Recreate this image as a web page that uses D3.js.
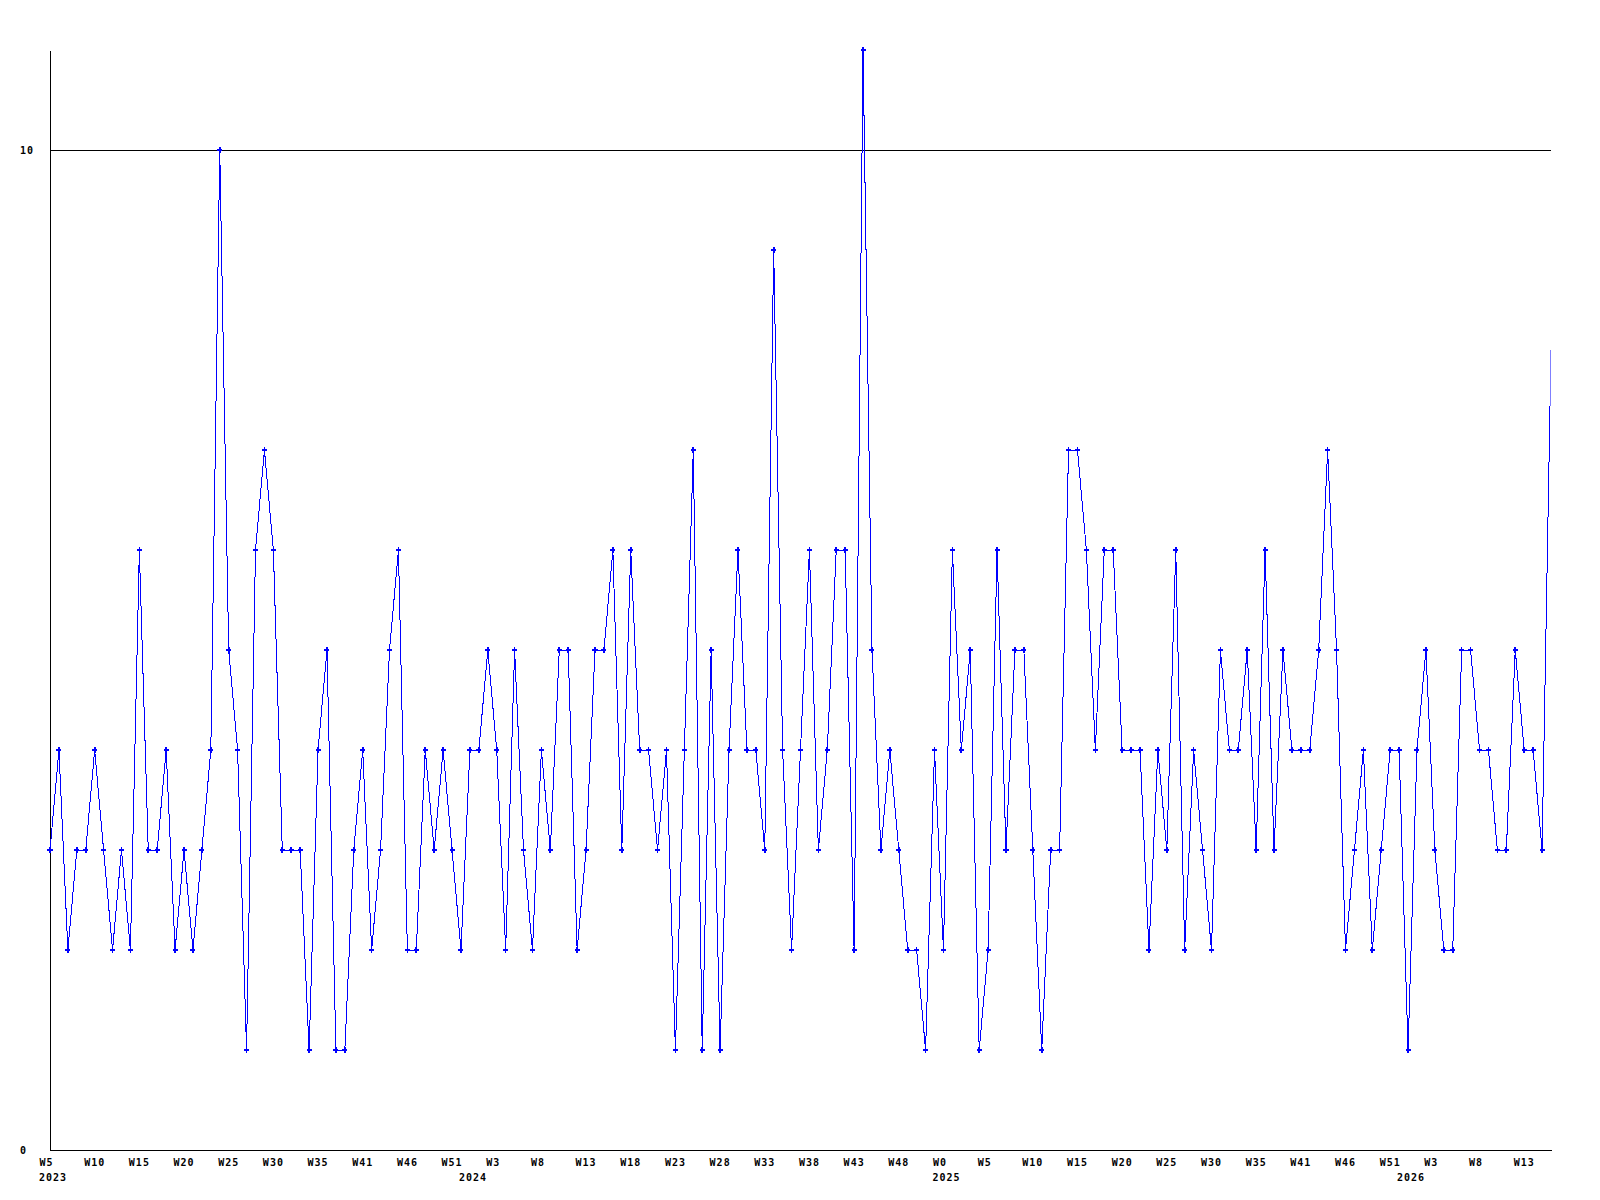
<!DOCTYPE html>
<html>
<head>
<meta charset="utf-8">
<script src="https://cdn.jsdelivr.net/npm/d3@7"></script>
<style>
  html, body { margin: 0; padding: 0; background: #ffffff; }
  svg { display: block; }
  .lbl { font-family: "DejaVu Sans Mono", monospace; font-weight: bold; font-size: 10px; letter-spacing: 1px; fill: #000; }
</style>
</head>
<body>
<svg id="chart" width="1600" height="1200"></svg>
<script>
// Weekly values, one per week starting at 2023 W5
const values = [
  3,4,2,3,3,4,3,2,3,2,
  6,3,3,4,2,3,2,3,4,10,
  5,4,1,6,7,6,3,3,3,1,
  4,5,1,1,3,4,2,3,5,6,
  2,2,4,3,4,3,2,4,4,5,
  4,2,5,3,2,4,3,5,5,2,
  3,5,5,6,3,6,4,4,3,4,
  1,4,7,1,5,1,4,6,4,4,
  3,9,4,2,4,6,3,4,6,6,
  2,11,5,3,4,3,2,2,1,4,
  2,6,4,5,1,2,6,3,5,5,
  3,1,3,3,7,7,6,4,6,6,
  4,4,4,2,4,3,6,2,4,3,
  2,5,4,4,5,3,6,3,5,4,
  4,4,5,7,5,2,3,4,2,3,
  4,4,1,4,5,3,2,2,5,5,
  4,4,3,3,5,4,4,3,8
];

// Week tick labels (one every 5 points, starting at the first point)
const weekTickIndex = d3.range(0, 166, 5);
const weekLabels = [
  "W5","W10","W15","W20","W25","W30","W35","W41","W46","W51",
  "W3","W8","W13","W18","W23","W28","W33","W38","W43","W48",
  "W0","W5","W10","W15","W20","W25","W30","W35","W41","W46",
  "W51","W3","W8","W13"
];

// Year labels and the point index where each is written
const yearLabels = ["2023","2024","2025","2026"];
const yearIndex = [0, 47, 100, 152];

// Y axis labels
const yTickValues = [0, 10];
const yMax = 11;

const svg = d3.select("#chart");
const mLeft = 50, mRight = 1551, mTop = 50, mBottom = 1150;

const x = d3.scaleLinear().domain([0, values.length - 1]).range([mLeft, mRight]);
const y = d3.scaleLinear().domain([0, yMax]).range([mBottom, mTop]);

svg.append("rect").attr("width", 1600).attr("height", 1200).attr("fill", "#fff");

// gridline at 10
svg.append("g")
  .attr("transform", `translate(${mLeft},0)`)
  .call(d3.axisLeft(y).tickValues([10]).tickSize(-(mRight - mLeft)).tickFormat(""))
  .call(g => g.select(".domain").remove())
  .call(g => g.selectAll("line").attr("stroke", "#000").attr("shape-rendering", "crispEdges"));

// Y axis
svg.append("g")
  .attr("transform", `translate(${mLeft},0)`)
  .call(d3.axisLeft(y).tickValues(yTickValues).tickSize(0).tickFormat(d3.format("d")))
  .call(g => g.select(".domain").attr("stroke", "#000").attr("shape-rendering", "crispEdges"))
  .call(g => g.selectAll("text")
      .attr("class", "lbl")
      .attr("text-anchor", "start")
      .attr("x", 20 - mLeft)
      .attr("dy", "0.35em"))
  .attr("font-family", null).attr("font-size", null);

// X axis
svg.append("g")
  .attr("transform", `translate(0,${mBottom})`)
  .call(d3.axisBottom(x).tickValues(weekTickIndex).tickSize(0)
      .tickFormat((d, i) => weekLabels[i]))
  .call(g => g.select(".domain").attr("stroke", "#000").attr("shape-rendering", "crispEdges"))
  .call(g => g.selectAll("text")
      .attr("class", "lbl")
      .attr("text-anchor", "start")
      .attr("x", -11)
      .attr("y", 15.5)
      .attr("dy", null))
  .attr("font-family", null).attr("font-size", null);

// Year labels
svg.append("g").selectAll("text")
  .data(yearLabels)
  .join("text")
  .attr("class", "lbl")
  .attr("x", (d, i) => x(yearIndex[i]) - 11)
  .attr("y", mBottom + 31)
  .text(d => d);

// clip (right edge only)
svg.append("clipPath").attr("id", "plotclip")
  .append("rect").attr("x", 0).attr("y", 0).attr("width", mRight - 0.5).attr("height", mBottom + 1);

const plot = svg.append("g").attr("clip-path", "url(#plotclip)");

const line = d3.line().x((d, i) => x(i)).y(d => y(d));

plot.append("path")
  .datum(values)
  .attr("d", line)
  .attr("fill", "none")
  .attr("stroke", "#0000ff")
  .attr("stroke-width", 1)
  .attr("shape-rendering", "crispEdges");

plot.selectAll("path.mk")
  .data(values.slice(0, values.length - 1))
  .join("path")
  .attr("class", "mk")
  .attr("transform", (d, i) => `translate(${x(i)},${y(d)})`)
  .attr("d", d3.symbol(d3.symbolCross, 14))
  .attr("fill", "#0000ff")
  .attr("shape-rendering", "crispEdges");
</script>
</body>
</html>
